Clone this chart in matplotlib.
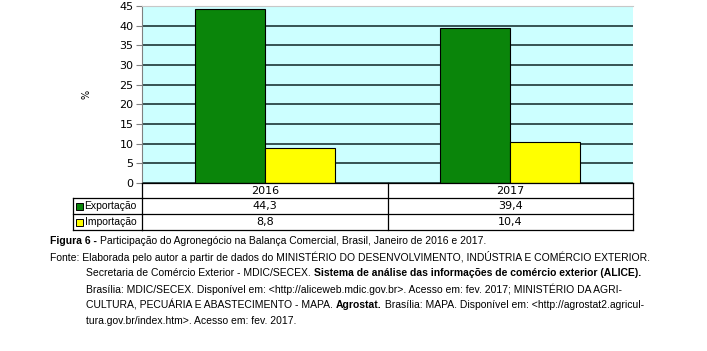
import matplotlib
matplotlib.use("Agg")
import matplotlib.pyplot as plt
from matplotlib.patches import Rectangle
from matplotlib.transforms import blended_transform_factory, Affine2D

years = ["2016", "2017"]
series_names = ["Exportação", "Importação"]
exportacao = [44.3, 39.4]
importacao = [8.8, 10.4]
series_colors = ["#0a850a", "#ffff00"]
y_ticks = [0, 5, 10, 15, 20, 25, 30, 35, 40, 45]

caption_lines = [
    (50, [("Figura 6 - ", "bold"), ("Participação do Agronegócio na Balança Comercial, Brasil, Janeiro de 2016 e 2017.", "normal")]),
    (50, [("Fonte: Elaborada pelo autor a partir de dados do MINISTÉRIO DO DESENVOLVIMENTO, INDÚSTRIA E COMÉRCIO EXTERIOR.", "normal")]),
    (86, [("Secretaria de Comércio Exterior - MDIC/SECEX. ", "normal"), ("Sistema de análise das informações de comércio exterior (ALICE).", "bold")]),
    (86, [("Brasília: MDIC/SECEX. Disponível em: <http://aliceweb.mdic.gov.br>. Acesso em: fev. 2017; MINISTÉRIO DA AGRI-", "normal")]),
    (86, [("CULTURA, PECUÁRIA E ABASTECIMENTO - MAPA. ", "normal"), ("Agrostat.", "bold"), (" Brasília: MAPA. Disponível em: <http://agrostat2.agricul-", "normal")]),
    (86, [("tura.gov.br/index.htm>. Acesso em: fev. 2017.", "normal")]),
]

W, H = 707, 351
fig = plt.figure(figsize=(W / 100, H / 100), dpi=100)
fig.patch.set_facecolor("white")

# plot area in pixels: x 142..633, y 6..183 (from top)
ax = fig.add_axes([142 / W, 1 - 183 / H, (633 - 142) / W, (183 - 6) / H])
ax.set_facecolor("#ccffff")
ax.set_xlim(-0.5, 1.5)
ax.set_ylim(0, 45)
ax.set_yticks(y_ticks)
ax.set_xticks([])
ax.yaxis.grid(True, color="#2b4545", linewidth=1.3)
ax.set_axisbelow(True)
for s in ["right", "bottom"]:
    ax.spines[s].set_visible(False)
ax.spines["top"].set_color("#c8c8c8")
ax.spines["left"].set_color("#808080")
ax.tick_params(axis="y", labelsize=8, length=4, color="#808080", pad=2)
ax.set_ylabel("%", fontsize=7, labelpad=20)

x = [0, 1]
bw = 0.285
ax.bar([i - bw / 2 for i in x], exportacao, width=bw, color=series_colors[0],
       edgecolor="black", linewidth=0.8, zorder=3)
ax.bar([i + bw / 2 for i in x], importacao, width=bw, color=series_colors[1],
       edgecolor="black", linewidth=0.8, zorder=3)

# data table below the plot (pixel coords from top-left)
px = Affine2D().scale(1 / 100, -1 / 100).translate(0, H / 100) + fig.dpi_scale_trans
bt = blended_transform_factory(ax.transData, px)

row_tops = [183, 198, 214, 230]
lw = 0.9
for yb in [183, 198]:
    fig.add_artist(plt.Line2D([-0.5, 1.5], [yb, yb], transform=bt, color="black", lw=lw))
for xb in [-0.5, 0.5, 1.5]:
    fig.add_artist(plt.Line2D([xb, xb], [183, 230], transform=bt, color="black", lw=lw))
for yb in [214, 230]:
    fig.add_artist(plt.Line2D([73, 142], [yb, yb], transform=px, color="black", lw=lw))
    fig.add_artist(plt.Line2D([-0.5, 1.5], [yb, yb], transform=bt, color="black", lw=lw))
fig.add_artist(plt.Line2D([73, 142], [198, 198], transform=px, color="black", lw=lw))
fig.add_artist(plt.Line2D([73, 73], [198, 230], transform=px, color="black", lw=lw))

for i, yr in enumerate(years):
    fig.text(x[i], 190.5, yr, transform=bt, ha="center", va="center", fontsize=8)
for r, vals in enumerate([exportacao, importacao]):
    yc = (row_tops[r + 1] + row_tops[r + 2]) / 2
    for i, v in enumerate(vals):
        fig.text(x[i], yc, f"{v:.1f}".replace(".", ","), transform=bt,
                 ha="center", va="center", fontsize=8)
    fig.add_artist(Rectangle((76, yc + 3.5), 7, -7, transform=px,
                             facecolor=series_colors[r], edgecolor="black", lw=0.7))
    fig.text(84.5, yc, series_names[r], transform=px, ha="left", va="center",
             fontsize=7.5, family=["Liberation Sans", "DejaVu Sans"])

# caption
cap_font = ["Liberation Sans", "DejaVu Sans"]
fig.canvas.draw()
renderer = fig.canvas.get_renderer()
y0 = 241
for k, (xs, parts) in enumerate(caption_lines):
    yy = y0 + 16 * k
    xc = xs
    for txt, wt in parts:
        t = fig.text(xc, yy, txt, transform=px, ha="left", va="center",
                     fontsize=7.5, fontweight=wt, family=cap_font)
        bb = t.get_window_extent(renderer)
        xc += bb.width

fig.savefig("out.png", dpi=100)
